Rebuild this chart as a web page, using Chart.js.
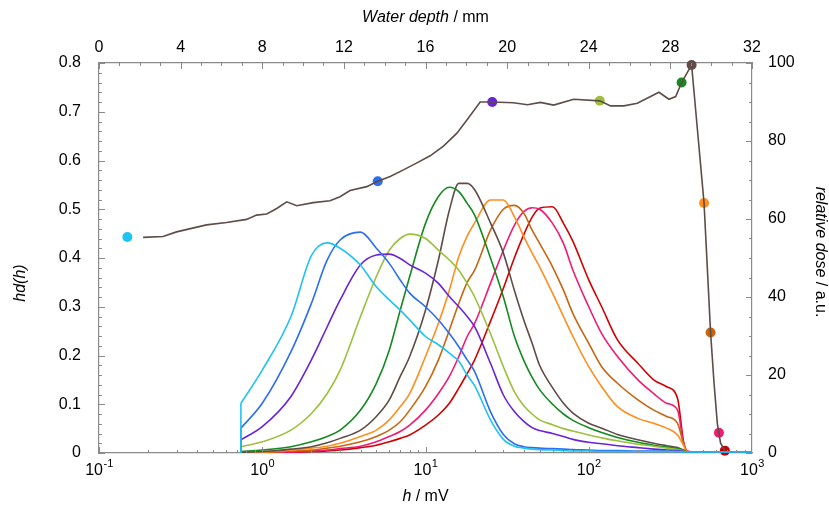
<!DOCTYPE html>
<html>
<head>
<meta charset="utf-8">
<script src="https://cdn.jsdelivr.net/npm/chart.js@4/dist/chart.umd.min.js"></script>
<style>
  html, body { margin: 0; padding: 0; background: #fff; }
  canvas { display: block; }
</style>
</head>
<body>
<canvas id="chart" width="829" height="516"></canvas>
<script>
// pulse height grid (mV), shared by all spectra
const hValues = [0.74, 1, 1.5, 2, 2.5, 3, 4, 5, 6, 7, 8, 10, 12, 14, 16, 18, 20, 25, 30, 35, 40, 45, 50, 60, 70, 80, 100, 120, 150, 200, 250, 300, 350, 380, 400, 450, 600, 1000];

// hd(h) spectra, one per measuring depth
const cyanHd   = [0.102, 0.170, 0.280, 0.405, 0.431, 0.420, 0.385, 0.341, 0.314, 0.293, 0.273, 0.239, 0.222, 0.205, 0.188, 0.160, 0.138, 0.068, 0.028, 0.014, 0.010, 0.008, 0.007, 0.006, 0.005, 0.004, 0.004, 0.003, 0.003, 0.003, 0.003, 0.003, 0.003, 0.002, 0.002, 0.002, 0.002, 0.002];
const blueHd   = [0.051, 0.102, 0.208, 0.307, 0.396, 0.437, 0.453, 0.420, 0.389, 0.355, 0.328, 0.300, 0.273, 0.245, 0.218, 0.191, 0.167, 0.085, 0.038, 0.019, 0.013, 0.011, 0.010, 0.009, 0.008, 0.007, 0.006, 0.005, 0.005, 0.004, 0.004, 0.004, 0.003, 0.003, 0.002, 0.002, 0.002, 0.002];
const purpleHd = [0.027, 0.054, 0.116, 0.191, 0.259, 0.314, 0.386, 0.406, 0.408, 0.399, 0.386, 0.369, 0.348, 0.321, 0.300, 0.280, 0.259, 0.184, 0.119, 0.085, 0.065, 0.052, 0.046, 0.040, 0.034, 0.028, 0.022, 0.019, 0.015, 0.011, 0.008, 0.006, 0.005, 0.003, 0.001, 0.001, 0.001, 0.001];
const limeHd   = [0.013, 0.023, 0.047, 0.081, 0.122, 0.170, 0.280, 0.362, 0.416, 0.440, 0.449, 0.440, 0.416, 0.396, 0.375, 0.348, 0.320, 0.245, 0.177, 0.126, 0.097, 0.080, 0.068, 0.058, 0.050, 0.045, 0.037, 0.031, 0.025, 0.018, 0.014, 0.010, 0.007, 0.004, 0.001, 0.001, 0.001, 0.001];
const greenHd  = [0.003, 0.006, 0.013, 0.023, 0.034, 0.047, 0.088, 0.143, 0.211, 0.293, 0.362, 0.471, 0.526, 0.545, 0.536, 0.512, 0.488, 0.400, 0.320, 0.240, 0.190, 0.155, 0.130, 0.100, 0.080, 0.067, 0.052, 0.042, 0.032, 0.022, 0.016, 0.012, 0.009, 0.005, 0.001, 0.001, 0.001, 0.001];
const greyHd   = [0.001, 0.003, 0.008, 0.013, 0.021, 0.030, 0.047, 0.075, 0.109, 0.157, 0.198, 0.293, 0.396, 0.498, 0.553, 0.553, 0.540, 0.472, 0.410, 0.334, 0.273, 0.225, 0.180, 0.134, 0.102, 0.082, 0.061, 0.051, 0.038, 0.027, 0.020, 0.015, 0.011, 0.006, 0.002, 0.001, 0.001, 0.001];
const orangeHd = [0.001, 0.002, 0.006, 0.010, 0.014, 0.020, 0.034, 0.047, 0.068, 0.095, 0.122, 0.198, 0.266, 0.334, 0.403, 0.445, 0.472, 0.519, 0.519, 0.485, 0.444, 0.410, 0.382, 0.328, 0.280, 0.239, 0.177, 0.136, 0.095, 0.071, 0.061, 0.051, 0.037, 0.016, 0.002, 0.001, 0.001, 0.001];
const rustHd   = [0.001, 0.001, 0.004, 0.006, 0.010, 0.014, 0.023, 0.034, 0.047, 0.064, 0.088, 0.136, 0.191, 0.252, 0.307, 0.350, 0.375, 0.457, 0.500, 0.508, 0.492, 0.457, 0.430, 0.382, 0.334, 0.286, 0.225, 0.177, 0.143, 0.109, 0.088, 0.075, 0.061, 0.020, 0.003, 0.001, 0.001, 0.001];
const pinkHd   = [0.000, 0.001, 0.002, 0.004, 0.006, 0.009, 0.014, 0.023, 0.034, 0.044, 0.057, 0.088, 0.122, 0.157, 0.198, 0.239, 0.266, 0.348, 0.416, 0.467, 0.495, 0.503, 0.500, 0.471, 0.430, 0.375, 0.300, 0.245, 0.198, 0.150, 0.122, 0.102, 0.088, 0.022, 0.005, 0.001, 0.001, 0.001];
const redHd    = [0.000, 0.001, 0.001, 0.003, 0.004, 0.006, 0.011, 0.016, 0.023, 0.030, 0.037, 0.057, 0.078, 0.102, 0.133, 0.163, 0.191, 0.270, 0.338, 0.400, 0.448, 0.484, 0.502, 0.505, 0.471, 0.434, 0.355, 0.300, 0.232, 0.184, 0.150, 0.136, 0.112, 0.025, 0.003, 0.001, 0.001, 0.001];

// depth dose curve (mm, a.u.)
const doseDepth = [2.16, 3.14, 3.80, 5.27, 6.25, 7.23, 7.72, 8.22, 8.71, 9.20, 9.69, 10.5, 11.32, 11.81, 12.30, 13.12, 13.66, 14.27, 14.92, 15.58, 16.23, 16.88, 17.54, 18.03, 18.68, 19.27, 20.3, 21.0, 21.63, 22.28, 23.26, 24.54, 25.07, 25.72, 26.38, 27.03, 27.44, 27.93, 28.26, 28.55, 29.04, 29.65, 29.97, 30.14, 30.30, 30.46, 30.67];
const doseValue = [55.3, 55.5, 56.7, 58.5, 59.1, 59.9, 61.0, 61.3, 62.7, 64.4, 63.4, 64.2, 64.7, 65.7, 67.3, 68.3, 69.7, 70.9, 72.6, 74.4, 76.2, 78.7, 82.0, 85.4, 90.0, 90.0, 89.8, 89.3, 89.9, 89.2, 90.7, 90.3, 89.0, 89.0, 89.7, 91.4, 92.5, 90.7, 91.4, 95.0, 99.5, 64.1, 30.9, 17.9, 7.6, 2.5, 0.6];

// measuring positions marked on the dose curve
const markDepth = [1.39, 13.66, 19.27, 24.54, 28.55, 29.04, 29.65, 29.97, 30.38, 30.67];
const markDose  = [55.4, 69.7, 90.0, 90.3, 95.0, 99.5, 64.1, 30.9, 5.2, 0.6];

const yTicks  = [0, 0.1, 0.2, 0.3, 0.4, 0.5, 0.6, 0.7, 0.8];
const y2Ticks = [0, 20, 40, 60, 80, 100];
const x2Ticks = [0, 4, 8, 12, 16, 20, 24, 28, 32];
const xDecades = [-1, 0, 1, 2, 3];

const colors = ['#1fc3f1', '#2b6ef0', '#6a24d6', '#9cc03c', '#148a1f', '#5f4c46', '#ff8e1e', '#c8650f', '#f21a72', '#d20000'];
const spectra = [cyanHd, blueHd, purpleHd, limeHd, greenHd, greyHd, orangeHd, rustHd, pinkHd, redHd];
const doseColor = '#5f4c46';
const markColors = ['#1fc3f1', '#2b6ef0', '#6a24d6', '#9cc03c', '#148a1f', '#5f4c46', '#ff8e1e', '#c8650f', '#f21a72', '#c80000'];

const family = "'Liberation Sans', Arial, sans-serif";
const axisColor = '#8a8a8a';

Chart.defaults.font.family = family;
Chart.defaults.font.size = 16;
Chart.defaults.color = '#000';

const datasets = [];
spectra.forEach((values, i) => {
    // vertical edge where the spectrum starts (threshold)
    datasets.push({
        data: [{ x: hValues[0], y: 0 }, { x: hValues[0], y: values[0] }],
        borderColor: colors[i],
        borderWidth: 1.6,
        pointRadius: 0,
        tension: 0,
        xAxisID: 'x',
        yAxisID: 'y'
    });
    datasets.push({
        data: hValues.map((h, k) => ({ x: h, y: values[k] })),
        borderColor: colors[i],
        borderWidth: 1.6,
        pointRadius: 0,
        cubicInterpolationMode: 'monotone',
        xAxisID: 'x',
        yAxisID: 'y'
    });
});

datasets.push({
    data: doseDepth.map((d, k) => ({ x: d, y: doseValue[k] })),
    borderColor: doseColor,
    borderWidth: 1.6,
    pointRadius: 0,
    tension: 0,
    xAxisID: 'x2',
    yAxisID: 'y2'
});

datasets.push({
    data: markDepth.map((d, k) => ({ x: d, y: markDose[k] })),
    showLine: false,
    pointRadius: 5,
    pointBackgroundColor: markColors,
    pointBorderColor: markColors,
    pointBorderWidth: 0,
    clip: false,
    xAxisID: 'x2',
    yAxisID: 'y2'
});

// draws a title made of italic / upright pieces, centred on (x, y)
function drawTitle(ctx, parts, x, y, angle) {
    ctx.save();
    ctx.translate(x, y);
    ctx.rotate(angle);
    ctx.fillStyle = '#000';
    let total = 0;
    parts.forEach((p) => {
        ctx.font = (p.italic ? 'italic ' : '') + '16px ' + family;
        total += ctx.measureText(p.text).width;
    });
    let cx = -total / 2;
    ctx.textBaseline = 'middle';
    ctx.textAlign = 'left';
    parts.forEach((p) => {
        ctx.font = (p.italic ? 'italic ' : '') + '16px ' + family;
        ctx.fillText(p.text, cx, 0);
        cx += ctx.measureText(p.text).width;
    });
    ctx.restore();
}

// inward tick marks, decade labels and axis titles
const axisDecor = {
    id: 'axisDecor',
    afterDraw(chart) {
        const ctx = chart.ctx;
        const area = chart.chartArea;
        const sx = chart.scales.x, sx2 = chart.scales.x2, sy = chart.scales.y, sy2 = chart.scales.y2;

        ctx.save();
        ctx.strokeStyle = axisColor;
        ctx.lineWidth = 1;
        ctx.beginPath();
        for (let i = 0; i <= 40; i++) {
            const p = Math.round(sy.getPixelForValue(i * 0.02)) + 0.5;
            const len = i % 5 === 0 ? 6 : 3;
            ctx.moveTo(area.left, p);
            ctx.lineTo(area.left + len, p);
        }
        for (let i = 0; i <= 20; i++) {
            const p = Math.round(sy2.getPixelForValue(i * 5)) + 0.5;
            const len = i % 4 === 0 ? 6 : 3;
            ctx.moveTo(area.right, p);
            ctx.lineTo(area.right - len, p);
        }
        for (let i = 0; i <= 32; i++) {
            const p = Math.round(sx2.getPixelForValue(i)) + 0.5;
            const len = i % 4 === 0 ? 6 : 3;
            ctx.moveTo(p, area.top);
            ctx.lineTo(p, area.top + len);
        }
        for (let e = -1; e <= 2; e++) {
            for (let m = 1; m <= 9; m++) {
                const p = Math.round(sx.getPixelForValue(m * Math.pow(10, e))) + 0.5;
                const len = m === 1 ? 6 : 3;
                ctx.moveTo(p, area.bottom);
                ctx.lineTo(p, area.bottom - len);
            }
        }
        ctx.stroke();

        // 10^n labels on the log axis
        ctx.fillStyle = '#000';
        ctx.textAlign = 'left';
        ctx.textBaseline = 'alphabetic';
        xDecades.forEach((e) => {
            const p = sx.getPixelForValue(Math.pow(10, e));
            ctx.font = '16px ' + family;
            const wBase = ctx.measureText('10').width;
            ctx.font = '11px ' + family;
            const wExp = ctx.measureText(String(e)).width;
            const x0 = p - (wBase + wExp) / 2;
            ctx.font = '16px ' + family;
            ctx.fillText('10', x0, 475);
            ctx.font = '11px ' + family;
            ctx.fillText(String(e), x0 + wBase + 0.5, 467);
        });
        ctx.restore();

        const midX = (area.left + area.right) / 2;
        drawTitle(ctx, [{ text: 'Water depth', italic: true }, { text: ' / mm' }], midX, 18, 0);
        drawTitle(ctx, [{ text: 'h', italic: true }, { text: ' / mV' }], midX, 497, 0);
        drawTitle(ctx, [{ text: 'hd(h)', italic: true }], 21, 283, -Math.PI / 2);
        drawTitle(ctx, [{ text: 'relative dose', italic: true }, { text: ' / a.u.' }], 820, 252, Math.PI / 2);
    }
};

const noGrid = { display: false, drawTicks: false };
const border = { display: true, color: axisColor, width: 1.2 };

new Chart(document.getElementById('chart'), {
    type: 'line',
    data: { datasets: datasets },
    options: {
        responsive: false,
        animation: false,
        devicePixelRatio: 1,
        layout: { padding: 0 },
        plugins: { legend: { display: false }, tooltip: { enabled: false } },
        scales: {
            x: {
                type: 'logarithmic',
                position: 'bottom',
                min: 0.1,
                max: 1000,
                grid: noGrid,
                border: border,
                ticks: { display: false },
                afterFit: (s) => { s.height = 63; }
            },
            x2: {
                type: 'linear',
                position: 'top',
                min: 0,
                max: 32,
                grid: noGrid,
                border: border,
                afterBuildTicks: (s) => { s.ticks = x2Ticks.map((v) => ({ value: v })); },
                ticks: { padding: 6, maxRotation: 0, callback: (v) => String(v) },
                afterFit: (s) => { s.height = 63; }
            },
            y: {
                position: 'left',
                min: 0,
                max: 0.8,
                grid: noGrid,
                border: border,
                afterBuildTicks: (s) => { s.ticks = yTicks.map((v) => ({ value: v })); },
                ticks: { padding: 18, callback: (v) => (v === 0 ? '0' : v.toFixed(1)) },
                afterFit: (s) => { s.width = 99; }
            },
            y2: {
                position: 'right',
                min: 0,
                max: 100,
                grid: noGrid,
                border: border,
                afterBuildTicks: (s) => { s.ticks = y2Ticks.map((v) => ({ value: v })); },
                ticks: { padding: 16, callback: (v) => String(v) },
                afterFit: (s) => { s.width = 77; }
            }
        }
    },
    plugins: [axisDecor]
});
</script>
</body>
</html>
